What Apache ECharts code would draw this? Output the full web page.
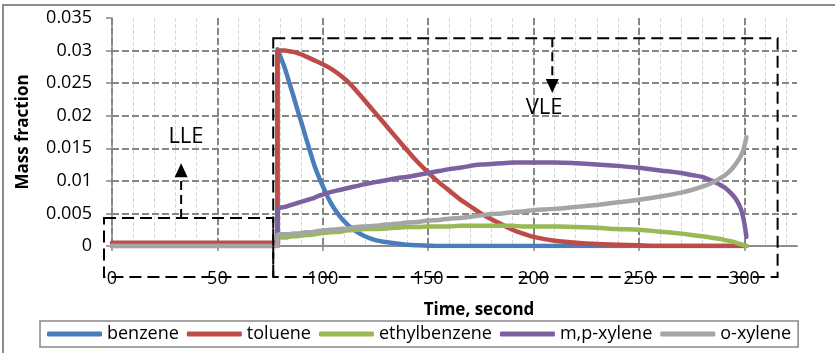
<!DOCTYPE html>
<html>
<head>
<meta charset="utf-8">
<script src="https://cdn.jsdelivr.net/npm/echarts@6/dist/echarts.min.js"></script>
<style>
  html, body { margin: 0; padding: 0; background: #fff; }
  #main { width: 835px; height: 353px; }
</style>
</head>
<body>
<div id="main"></div>
<script>
// time, s (78.5 appears twice: value before and after the switch to VLE)
const times = [0, 78.5, 78.5, 80, 82, 84, 86, 88, 90, 92, 94, 96, 98, 100, 104, 108, 112, 116, 120, 125,
  130, 135, 140, 145, 150, 155, 160, 165, 170, 175, 180, 185, 190, 195, 200, 210, 220, 230, 240, 250,
  260, 270, 275, 280, 284, 288, 291, 294, 296, 298, 299, 300, 301]

const benzene = [0, 0, 0.0302, 0.0290, 0.0273, 0.0252, 0.0231, 0.0209, 0.0188, 0.0166, 0.0145, 0.0124, 0.0107, 0.0092, 0.0065, 0.0046, 0.0032, 0.0022, 0.0015, 0.0009,
  0.0006, 0.0004, 0.0002, 0.0001, 0.00005, 0, 0, 0, 0, 0, 0, 0, 0, 0, 0, 0, 0, 0, 0, 0,
  0, 0, 0, 0, 0, 0, 0, 0, 0, 0, 0, 0, 0]
const toluene = [0.0005, 0.0005, 0.0298, 0.0300, 0.0300, 0.0299, 0.0298, 0.0296, 0.0294, 0.0291, 0.0288, 0.0285, 0.0282, 0.0279, 0.0272, 0.0263, 0.0252, 0.0238, 0.0223, 0.0204,
  0.0185, 0.0166, 0.0147, 0.0129, 0.0113, 0.0098, 0.0085, 0.0072, 0.0061, 0.0050, 0.0041, 0.0033, 0.0025, 0.0019, 0.0014, 0.0008, 0.0005, 0.0003, 0.0002, 0.0001,
  0, 0, 0, 0, 0, 0, 0, 0, 0, 0, 0, 0, 0]
const ethylbenzene = [0, 0, 0.0012, 0.0013, 0.0013, 0.0014, 0.0015, 0.0015, 0.0016, 0.0017, 0.0017, 0.0018, 0.0019, 0.0020, 0.0021, 0.0022, 0.0024, 0.0025, 0.0026, 0.0026,
  0.0027, 0.0028, 0.0029, 0.0029, 0.0030, 0.0030, 0.0030, 0.0031, 0.0031, 0.0031, 0.0031, 0.0031, 0.0031, 0.0030, 0.0030, 0.0030, 0.0029, 0.0028, 0.0026, 0.0025,
  0.0022, 0.0019, 0.0017, 0.0015, 0.0013, 0.0011, 0.0009, 0.0007, 0.0005, 0.0003, 0.0002, 0.0001, 0]
const mpXylene = [0, 0, 0.0057, 0.0059, 0.0060, 0.0062, 0.0064, 0.0066, 0.0068, 0.0070, 0.0072, 0.0074, 0.0077, 0.0079, 0.0083, 0.0086, 0.0089, 0.0092, 0.0095, 0.0098,
  0.0101, 0.0104, 0.0106, 0.0109, 0.0112, 0.0115, 0.0118, 0.0120, 0.0123, 0.0125, 0.0126, 0.0127, 0.0128, 0.0128, 0.0128, 0.0128, 0.0127, 0.0125, 0.0123, 0.0120,
  0.0116, 0.0112, 0.0109, 0.0106, 0.0101, 0.0095, 0.0089, 0.0080, 0.0072, 0.0060, 0.0050, 0.0035, 0.0014]
const oXylene = [0, 0, 0.0017, 0.0018, 0.0018, 0.0018, 0.0019, 0.0019, 0.0020, 0.0021, 0.0021, 0.0022, 0.0023, 0.0024, 0.0025, 0.0026, 0.0027, 0.0029, 0.0030, 0.0031,
  0.0033, 0.0034, 0.0036, 0.0037, 0.0039, 0.0040, 0.0042, 0.0043, 0.0045, 0.0047, 0.0049, 0.0050, 0.0052, 0.0053, 0.0055, 0.0057, 0.0060, 0.0063, 0.0067, 0.0071,
  0.0076, 0.0082, 0.0086, 0.0091, 0.0096, 0.0103, 0.0109, 0.0118, 0.0126, 0.0136, 0.0143, 0.0153, 0.0167]

const seriesNames = ['benzene', 'toluene', 'ethylbenzene', 'm,p-xylene', 'o-xylene']
const seriesValues = [benzene, toluene, ethylbenzene, mpXylene, oXylene]
const colors = ['#4a7ebb', '#be4b48', '#98b954', '#7d60a0', '#a5a5a5']

const xMin = 0, xMax = 325, xStep = 50, xMinorStep = 10
const yMin = 0, yMax = 0.035, yStep = 0.005

const font = 'Open Sans'
const gridGray = '#868686'

const chart = echarts.init(document.getElementById('main'))

chart.setOption({
  animation: false,
  textStyle: { fontFamily: font },
  grid: { left: 112, right: 38, top: 18, bottom: 107 },
  legend: {
    left: 40, top: 321,
    data: seriesNames,
    icon: 'roundRect',
    itemWidth: 55, itemHeight: 5, itemGap: 8,
    padding: [4, 7, 4, 7],
    borderColor: gridGray, borderWidth: 1.5,
    textStyle: { fontSize: 18, color: '#000', fontFamily: font },
  },
  xAxis: [
    {
      type: 'value', min: xMin, max: xMax, interval: xStep,
      axisLine: { show: true, lineStyle: { color: gridGray, width: 1.5 } },
      axisTick: { show: true, length: 5, lineStyle: { color: gridGray, width: 1.5 } },
      axisLabel: { margin: 24, fontSize: 18, color: '#000', showMaxLabel: false },
      splitLine: { show: true, showMaxLine: false, lineStyle: { color: gridGray, width: 2, type: [7, 3] } },
    },
    {
      type: 'value', min: xMin, max: xMax, interval: xMinorStep, position: 'top', z: -1,
      axisLine: { show: true, lineStyle: { color: gridGray, width: 1.5 } },
      axisTick: { show: false },
      axisLabel: { show: false },
      splitLine: { show: true, showMinLine: false, showMaxLine: false, lineStyle: { color: '#d9d9d9', width: 1, type: [4, 2] } },
    },
  ],
  yAxis: [
    {
      type: 'value', min: yMin, max: yMax, interval: yStep,
      name: 'Mass fraction', nameLocation: 'middle', nameGap: 80, nameRotate: 90,
      nameTextStyle: { fontSize: 17, fontWeight: 'bold', color: '#000', fontFamily: font },
      axisLine: { show: false },
      axisTick: { show: true, length: 6, lineStyle: { color: gridGray, width: 1.5 } },
      axisLabel: { margin: 20, fontSize: 18, color: '#000' },
      splitLine: { show: true, showMinLine: false, showMaxLine: false, lineStyle: { color: gridGray, width: 2, type: [7, 3] } },
    },
    {
      type: 'value', min: yMin, max: yMax, interval: yStep, position: 'right',
      axisLine: { show: true, lineStyle: { color: gridGray, width: 1.5 } },
      axisTick: { show: false }, axisLabel: { show: false }, splitLine: { show: false },
    },
  ],
  series: seriesNames.map((name, k) => ({
    name,
    type: 'line',
    xAxisIndex: 0, yAxisIndex: 0,
    symbol: 'none',
    smooth: 0.4,
    color: colors[k],
    lineStyle: { width: 4.5, color: colors[k], cap: 'round', join: 'round' },
    data: times.map((t, i) => [t, seriesValues[k][i]]),
    z: 3 + k,
  })),
})

// annotation layout, in data units
const switchTime = 76.5
const lleBox = { x0: -3.8, x1: switchTime, top: 0.0043, bottom: -0.00475 }
const vleBox = { x0: switchTime, x1: 315.8, top: 0.0319, bottom: -0.00475 }
const lleArrow = { x: 32.8, from: 0.0043, tip: 0.0127 }
const vleArrow = { x: 208.9, from: 0.0319, tip: 0.0235 }
const lleLabel = { x: 35.1, y: 0.0167 }
const vleLabel = { x: 205, y: 0.0213 }

const toPx = (t, v) => chart.convertToPixel({ xAxisIndex: 0, yAxisIndex: 0 }, [t, v])
const dashed = { stroke: '#000', lineWidth: 2, lineDash: [12, 6], fill: null }

function boxGraphic(b) {
  const a = toPx(b.x0, b.top), c = toPx(b.x1, b.bottom)
  return { type: 'rect', z: 100, shape: { x: a[0], y: a[1], width: c[0] - a[0], height: c[1] - a[1] }, style: dashed }
}
function arrowGraphic(a) {
  const p0 = toPx(a.x, a.from), tip = toPx(a.x, a.tip)
  const dir = tip[1] > p0[1] ? 1 : -1
  const baseY = tip[1] - dir * 14
  return [
    { type: 'line', z: 100, shape: { x1: p0[0], y1: p0[1], x2: p0[0], y2: baseY }, style: { stroke: '#000', lineWidth: 2, lineDash: [9, 5] } },
    { type: 'polygon', z: 100, shape: { points: [[tip[0], tip[1]], [tip[0] - 6.5, baseY], [tip[0] + 6.5, baseY]] }, style: { fill: '#000' } },
  ]
}
function labelGraphic(text, l) {
  const p = toPx(l.x, l.y)
  return { type: 'text', z: 100, x: p[0], y: p[1], style: { text, fontSize: 22, fontFamily: font, fill: '#000', align: 'center', verticalAlign: 'middle' } }
}

chart.setOption({
  graphic: [
    { type: 'rect', z: 0, shape: { x: 3, y: 5, width: 900, height: 400 }, style: { stroke: '#8c8c8c', lineWidth: 2, fill: null } },
    boxGraphic(lleBox),
    boxGraphic(vleBox),
    ...arrowGraphic(lleArrow),
    ...arrowGraphic(vleArrow),
    labelGraphic('LLE', lleLabel),
    labelGraphic('VLE', vleLabel),
    { type: 'text', x: 479, y: 310, style: { text: 'Time, second', fontSize: 17, fontWeight: 'bold', fontFamily: font, fill: '#000', align: 'center', verticalAlign: 'middle' } },
  ],
})
</script>
</body>
</html>
